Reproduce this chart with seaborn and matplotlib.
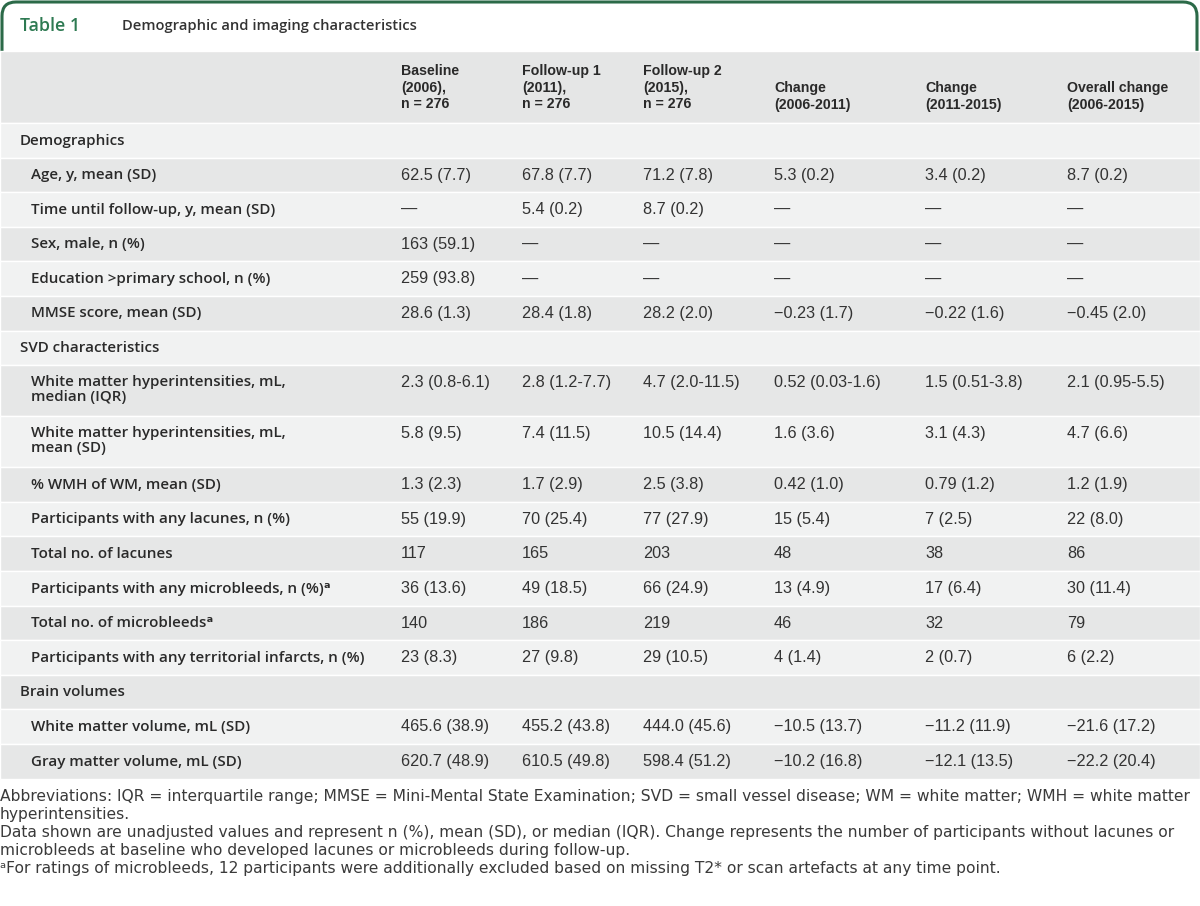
import matplotlib
matplotlib.use('Agg')
import matplotlib.pyplot as plt
from matplotlib.patches import FancyBboxPatch
import seaborn as sns

# table content
col_headers = [
    "Baseline\n(2006),\nn = 276",
    "Follow-up 1\n(2011),\nn = 276",
    "Follow-up 2\n(2015),\nn = 276",
    "Change\n(2006-2011)",
    "Change\n(2011-2015)",
    "Overall change\n(2006-2015)",
]

row_labels = [
    "Demographics",
    "Age, y, mean (SD)",
    "Time until follow-up, y, mean (SD)",
    "Sex, male, n (%)",
    "Education >primary school, n (%)",
    "MMSE score, mean (SD)",
    "SVD characteristics",
    "White matter hyperintensities, mL,\nmedian (IQR)",
    "White matter hyperintensities, mL,\nmean (SD)",
    "% WMH of WM, mean (SD)",
    "Participants with any lacunes, n (%)",
    "Total no. of lacunes",
    "Participants with any microbleeds, n (%)ᵃ",
    "Total no. of microbleedsᵃ",
    "Participants with any territorial infarcts, n (%)",
    "Brain volumes",
    "White matter volume, mL (SD)",
    "Gray matter volume, mL (SD)",
]
is_section = [True, False, False, False, False, False, True, False, False,
              False, False, False, False, False, False, True, False, False]

baseline = ["", "62.5 (7.7)", "—", "163 (59.1)", "259 (93.8)", "28.6 (1.3)", "",
            "2.3 (0.8-6.1)", "5.8 (9.5)", "1.3 (2.3)", "55 (19.9)", "117", "36 (13.6)",
            "140", "23 (8.3)", "", "465.6 (38.9)", "620.7 (48.9)"]
followup1 = ["", "67.8 (7.7)", "5.4 (0.2)", "—", "—", "28.4 (1.8)", "",
             "2.8 (1.2-7.7)", "7.4 (11.5)", "1.7 (2.9)", "70 (25.4)", "165", "49 (18.5)",
             "186", "27 (9.8)", "", "455.2 (43.8)", "610.5 (49.8)"]
followup2 = ["", "71.2 (7.8)", "8.7 (0.2)", "—", "—", "28.2 (2.0)", "",
             "4.7 (2.0-11.5)", "10.5 (14.4)", "2.5 (3.8)", "77 (27.9)", "203", "66 (24.9)",
             "219", "29 (10.5)", "", "444.0 (45.6)", "598.4 (51.2)"]
change_0611 = ["", "5.3 (0.2)", "—", "—", "—", "−0.23 (1.7)", "",
               "0.52 (0.03-1.6)", "1.6 (3.6)", "0.42 (1.0)", "15 (5.4)", "48", "13 (4.9)",
               "46", "4 (1.4)", "", "−10.5 (13.7)", "−10.2 (16.8)"]
change_1115 = ["", "3.4 (0.2)", "—", "—", "—", "−0.22 (1.6)", "",
               "1.5 (0.51-3.8)", "3.1 (4.3)", "0.79 (1.2)", "7 (2.5)", "38", "17 (6.4)",
               "32", "2 (0.7)", "", "−11.2 (11.9)", "−12.1 (13.5)"]
change_all = ["", "8.7 (0.2)", "—", "—", "—", "−0.45 (2.0)", "",
              "2.1 (0.95-5.5)", "4.7 (6.6)", "1.2 (1.9)", "22 (8.0)", "86", "30 (11.4)",
              "79", "6 (2.2)", "", "−21.6 (17.2)", "−22.2 (20.4)"]

footnotes = [
    "Abbreviations: IQR = interquartile range; MMSE = Mini-Mental State Examination; SVD = small vessel disease; WM = white matter; WMH = white matter",
    "hyperintensities.",
    "Data shown are unadjusted values and represent n (%), mean (SD), or median (IQR). Change represents the number of participants without lacunes or",
    "microbleeds at baseline who developed lacunes or microbleeds during follow-up.",
    "ᵃFor ratings of microbleeds, 12 participants were additionally excluded based on missing T2* or scan artefacts at any time point.",
]

sns.set_theme(style="white")
plt.rcParams['font.family'] = ['Liberation Sans', 'DejaVu Sans']
LABEL_FONT = ['Open Sans', 'DejaVu Sans']

GREEN = "#2b6a48"
DARK = "#e6e7e7"
LIGHT = "#f1f2f2"
TXT = "#2a2a2a"

fig = plt.figure(figsize=(12, 9.06), dpi=100)
ax = fig.add_axes([0, 0, 1, 1])
ax.set_xlim(0, 1200)
ax.set_ylim(906, 0)
ax.axis("off")

# title box
box = FancyBboxPatch((2, 2), 1195, 80, boxstyle="round,pad=0,rounding_size=14",
                     facecolor="white", edgecolor=GREEN, linewidth=2.2, zorder=1)
ax.add_patch(box)
ax.text(20, 26, "Table 1", color="#2e7a52", fontsize=12.8, fontweight="semibold",
        va="center", family=LABEL_FONT)
ax.text(122, 26, "Demographic and imaging characteristics", color="#333333",
        fontsize=10.6, fontweight="semibold", va="center", family=LABEL_FONT)

# header band
header_top, header_bot = 51, 123
ax.barh((header_top + header_bot) / 2, 1200, height=header_bot - header_top, left=0,
        color="#e5e6e6", zorder=2)
col_x = [401, 522, 643, 774, 925, 1067]
for x, h in zip(col_x, col_headers):
    ax.text(x, 111.5, h, fontsize=10.2, fontweight="bold", color=TXT, va="bottom",
            linespacing=1.25, zorder=3)

# body rows
single_h, double_h = 34.6, 51
columns = [baseline, followup1, followup2, change_0611, change_1115, change_all]
y = header_bot
for i, label in enumerate(row_labels):
    two_line = "\n" in label
    h = double_h if two_line else single_h
    ax.barh(y + h / 2, 1200, height=h, left=0, color=LIGHT if i % 2 == 0 else DARK,
            zorder=2)
    ax.axhline(y, color="white", linewidth=0.8, zorder=2.5)
    ty = y + 17.5
    if is_section[i]:
        ax.text(20, ty, label, fontsize=10.9, fontweight="semibold", color=TXT,
                va="center", zorder=3, family=LABEL_FONT)
    else:
        if two_line:
            ax.text(31, y + 9.5, label, fontsize=10.9, fontweight="semibold", color=TXT,
                    va="top", linespacing=1.12, zorder=3, family=LABEL_FONT)
        else:
            ax.text(31, ty, label, fontsize=10.9, fontweight="semibold", color=TXT,
                    va="center", zorder=3, family=LABEL_FONT)
        for x, col in zip(col_x, columns):
            ax.text(x, ty, col[i], fontsize=11.7, color="#333333", va="center", zorder=3)
    y += h

# footnotes
fy = 796
for line in footnotes:
    ax.text(0, fy, line, fontsize=11.2, color="#3a3a3a", va="center",
            family=['DejaVu Sans'])
    fy += 18

fig.savefig("out.png", dpi=100)
plt.close(fig)
